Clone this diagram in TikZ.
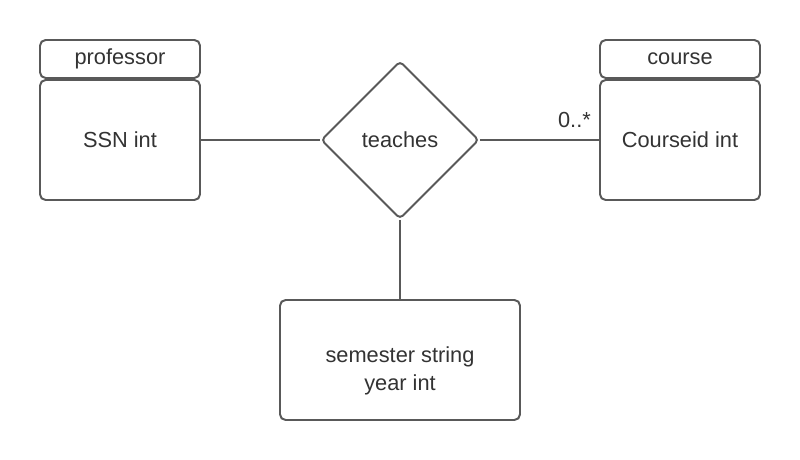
\documentclass[tikz,border=0pt]{standalone}
\usepackage{fontspec}
\setmainfont{Liberation Sans}
\usetikzlibrary{shapes.geometric}
\definecolor{linegray}{HTML}{595959}
\definecolor{textgray}{HTML}{333333}
\tikzset{
  box/.style={draw=linegray, line width=1.4pt, rounded corners=4pt, fill=white,
    text=textgray, minimum width=4cm, align=center, inner sep=0pt},
  relation/.style={diamond, draw=linegray, line width=1.4pt, rounded corners=3pt,
    text=textgray, minimum size=3.95cm, inner sep=0pt},
  link/.style={draw=linegray, line width=1pt}
}
\begin{document}
\begin{tikzpicture}[font=\fontsize{15.5}{20.5}\selectfont]
			\useasboundingbox (0,0) rectangle (20,-11.5);
			% Entity professor
			\node[box, minimum height=0.95cm] (profHead) at (3,-1.475) {professor};
			\node[box, minimum height=3cm] (profBody) at (3,-3.5) {SSN int};
			% Entity course
			\node[box, minimum height=0.95cm] (courseHead) at (17,-1.475) {course};
			\node[box, minimum height=3cm] (courseBody) at (17,-3.5) {Courseid int};
			% Relationship teaches
			\node[relation] (teaches) at (10,-3.5) {teaches};
			% Attributes of the relationship
			\node[box, minimum width=6cm, minimum height=3cm] (attrs) at (10,-9) {};
			\node[text=textgray, align=center] (attrsText) at ([yshift=-0.27cm]attrs.center) {semester string\\year int};
			% Connectors
			\draw[link] (profBody.east) -- (teaches.west);
			\draw[link] (teaches.east) -- (courseBody.west)
				node[pos=1, above left, xshift=-2pt, yshift=5pt, text=textgray] {0..*};
			\draw[link] (teaches.south) -- (attrs.north);
	\end{tikzpicture}
\end{document}
